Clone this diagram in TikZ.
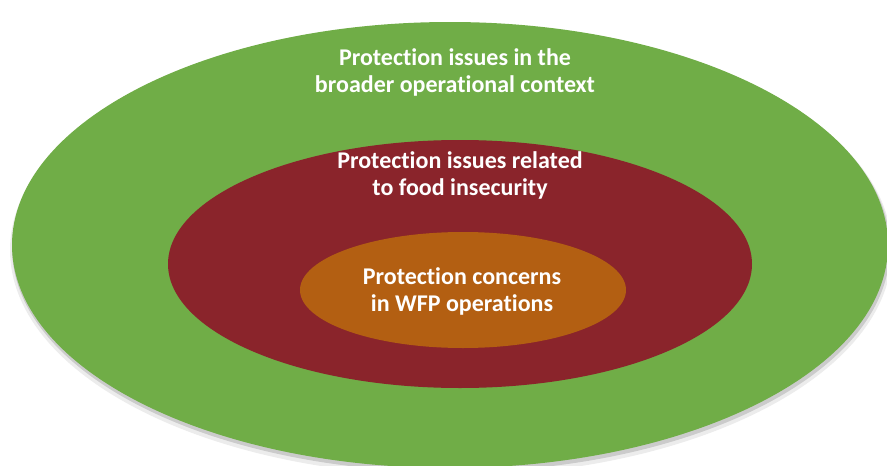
\documentclass[tikz,border=0pt]{standalone}
\usepackage{fontspec}
\setmainfont{Carlito}[Ligatures=NoCommon]
\usetikzlibrary{shapes.geometric,shadows}
\definecolor{outergreen}{HTML}{70AD47}
\definecolor{midred}{HTML}{8A242B}
\definecolor{innerorange}{HTML}{B35F12}
\tikzset{
  ring/.style={ellipse, inner sep=0pt, draw=none},
  lbl/.style={text=white, font=\bfseries\fontsize{24}{27}\selectfont, align=center},
}
\begin{document}
\begin{tikzpicture}[x=1pt,y=-1pt]
\useasboundingbox (0,0) rectangle (887,466);
\begin{scope}
\clip (0,0) rectangle (887,466);
\node[ring, fill=gray, opacity=0.15, minimum width=882pt, minimum height=452pt] (gshadow2) at (451,250) {};
\node[ring, fill=gray, opacity=0.3, minimum width=878pt, minimum height=448pt] (gshadow) at (451,248) {};
\node[ring, fill=outergreen, minimum width=876pt, minimum height=446pt] (outer) at (450,245) {};
\end{scope}
\node[ring, fill=midred, minimum width=584pt, minimum height=248pt] (mid) at (460,264) {};
\node[ring, fill=innerorange, minimum width=326pt, minimum height=116pt] (inner) at (463,290) {};
\node[lbl] (t1) at (455,72) {Protection issues in the\\broader operational context};
\node[lbl] (t2) at (460,175) {Protection issues related\\to food insecurity};
\node[lbl] (t3) at (462,291) {Protection concerns\\in WFP operations};
\end{tikzpicture}
\end{document}
